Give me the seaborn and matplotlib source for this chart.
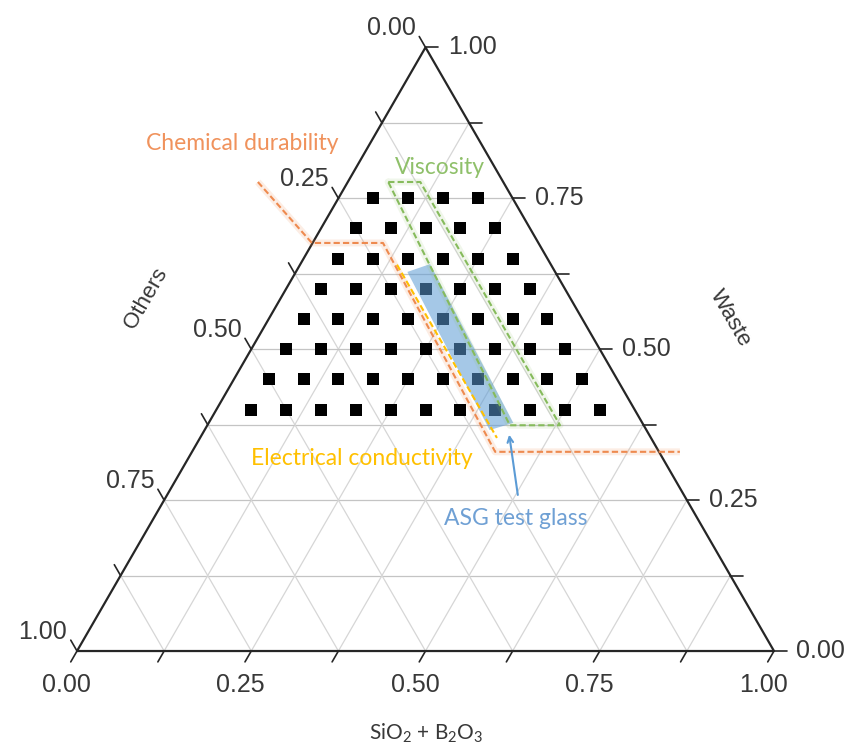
import numpy as np
import pandas as pd
import matplotlib.pyplot as plt
import seaborn as sns

# glass compositions: waste fraction of each row and the SiO2+B2O3 fractions in that row
waste_rows = [0.75, 0.70, 0.65, 0.60, 0.55, 0.50, 0.45, 0.40]
silica_rows = [
    [0.05, 0.10, 0.15, 0.20],
    [0.05, 0.10, 0.15, 0.20, 0.25],
    [0.05, 0.10, 0.15, 0.20, 0.25, 0.30],
    [0.05, 0.10, 0.15, 0.20, 0.25, 0.30, 0.35],
    [0.05, 0.10, 0.15, 0.20, 0.25, 0.30, 0.35, 0.40],
    [0.05, 0.10, 0.15, 0.20, 0.25, 0.30, 0.35, 0.40, 0.45],
    [0.05, 0.10, 0.15, 0.20, 0.25, 0.30, 0.35, 0.40, 0.45, 0.50],
    [0.05, 0.10, 0.15, 0.20, 0.25, 0.30, 0.35, 0.40, 0.45, 0.50, 0.55],
]

# constraint boundaries (silica, waste)
chem_silica = [-0.129, -0.001, 0.101, 0.435, 0.700]
chem_waste = [0.777, 0.676, 0.676, 0.330, 0.330]
visc_silica = [0.058, 0.104, 0.506, 0.434, 0.058]
visc_waste = [0.777, 0.777, 0.374, 0.374, 0.777]
cond_silica = [0.139, 0.426]
cond_waste = [0.640, 0.353]
asg_silica = [0.160, 0.186, 0.437, 0.409]
asg_waste = [0.628, 0.641, 0.378, 0.366]
arrow_silica = [0.506, 0.438]
arrow_waste = [0.254, 0.363]

grid_steps = [0.0, 0.125, 0.25, 0.375, 0.5, 0.625, 0.75, 0.875, 1.0]
tick_labels = {0.0: "0.00", 0.25: "0.25", 0.5: "0.50", 0.75: "0.75", 1.0: "1.00"}

H = np.sqrt(3) / 2


def to_xy(silica, waste):
    silica = np.asarray(silica, dtype=float)
    waste = np.asarray(waste, dtype=float)
    return silica + waste / 2, waste * H


sns.set_style("white")
plt.rcParams['font.family'] = ['Liberation Sans', 'DejaVu Sans']
plt.rcParams['mathtext.default'] = 'regular'

fig = plt.figure(figsize=(8.49, 7.44), dpi=100)
ax = fig.add_axes([0, 0, 1, 1])
ax.set_xlim(-0.1105, 1.1076)
ax.set_ylim(-0.1334, 0.934)
ax.axis('off')

# grid lines every 0.125 in the three directions
for g in grid_steps[1:-1]:
    x, y = to_xy([0, 1 - g], [g, g])
    ax.plot(x, y, color='#c4c4c4', lw=0.9, zorder=1)
    x, y = to_xy([g, g], [0, 1 - g])
    ax.plot(x, y, color='#d6d6d6', lw=0.9, zorder=1)
    x, y = to_xy([1 - g, 0], [0, 1 - g])
    ax.plot(x, y, color='#d6d6d6', lw=0.9, zorder=1)

# triangle frame
x, y = to_xy([0, 1, 0, 0], [0, 0, 1, 0])
ax.plot(x, y, color='#262626', lw=1.6, zorder=3)

tl = 0.018
lab_kw = dict(fontsize=18, color='#383838')
for g in grid_steps:
    # bottom axis (SiO2 + B2O3), ticks parallel to the left edge
    x, y = to_xy(g, 0)
    ax.plot([x, x - 0.5 * tl], [y, y - H * tl], color='#262626', lw=1.2, zorder=3)
    if g in tick_labels:
        ax.text(x - 0.015, y - 0.049, tick_labels[g], ha='center', va='center', **lab_kw)
    # right axis (Waste), horizontal ticks
    x, y = to_xy(1 - g, g)
    ax.plot([x, x + tl], [y, y], color='#262626', lw=1.2, zorder=3)
    if g in tick_labels:
        ax.text(x + 0.032, y, tick_labels[g], ha='left', va='center', **lab_kw)
    # left axis (Others), ticks parallel to the right edge
    x, y = to_xy(0, 1 - g)
    ax.plot([x, x - 0.5 * tl], [y, y + H * tl], color='#262626', lw=1.2, zorder=3)
    if g in tick_labels:
        ax.text(x - 0.014, y + 0.028, tick_labels[g], ha='right', va='center', **lab_kw)

ax.text(0.0989, 0.5065, "Others", rotation=60, ha='center', va='center', fontsize=16, color='#383838')
ax.text(0.9369, 0.4778, "Waste", rotation=-60, ha='center', va='center', fontsize=16, color='#383838')
ax.text(0.5007, -0.1176, r"SiO$_2$ + B$_2$O$_3$", ha='center', va='center', fontsize=15,
        color='#383838', family=['Lato', 'DejaVu Sans'])

# glass compositions
comp = pd.DataFrame(
    [(s, w) for w, row in zip(waste_rows, silica_rows) for s in row],
    columns=['silica', 'waste'],
)
comp['x'], comp['y'] = to_xy(comp['silica'], comp['waste'])
sns.scatterplot(data=comp, x='x', y='y', marker='s', s=72, color='black',
                linewidth=0, ax=ax, zorder=4)

# ASG test glass band
x, y = to_xy(asg_silica, asg_waste)
ax.fill(x, y, color='#5b9bd5', alpha=0.55, lw=0, zorder=5)

# constraints
orange = '#ee8a4f'
green = '#86bb5c'
yellow = '#ffc000'
x, y = to_xy(chem_silica, chem_waste)
ax.plot(x, y, color=orange, lw=5, alpha=0.15, zorder=5, solid_capstyle='butt')
ax.plot(x, y, color=orange, lw=1.5, ls=(0, (3, 1.5)), zorder=6)
x, y = to_xy(visc_silica, visc_waste)
ax.plot(x, y, color=green, lw=5, alpha=0.12, zorder=5)
ax.plot(x, y, color=green, lw=1.5, ls=(0, (3, 1.5)), zorder=6)
x, y = to_xy(cond_silica, cond_waste)
ax.plot(x, y, color=yellow, lw=1.5, ls=(0, (3, 1.5)), zorder=6)

x, y = to_xy(arrow_silica, arrow_waste)
ax.annotate("", xy=(x[1], y[1]), xytext=(x[0], y[0]),
            arrowprops=dict(arrowstyle='->', color='#5b9bd5', lw=1.5), zorder=7)

txt_font = ['Lato', 'DejaVu Sans']
ax.text(0.2367, 0.7288, "Chemical durability", ha='center', va='center', fontsize=16.5,
        color='#f0925c', family=txt_font)
ax.text(0.5208, 0.693, "Viscosity", ha='center', va='center', fontsize=16.5,
        color='#8fc06a', family=txt_font)
ax.text(0.4089, 0.2755, "Electrical conductivity", ha='center', va='center', fontsize=16.5,
        color=yellow, family=txt_font)
ax.text(0.6298, 0.1908, "ASG test glass", ha='center', va='center', fontsize=16.5,
        color='#6fa0d4', family=txt_font)

fig.savefig("out.png", dpi=100)
